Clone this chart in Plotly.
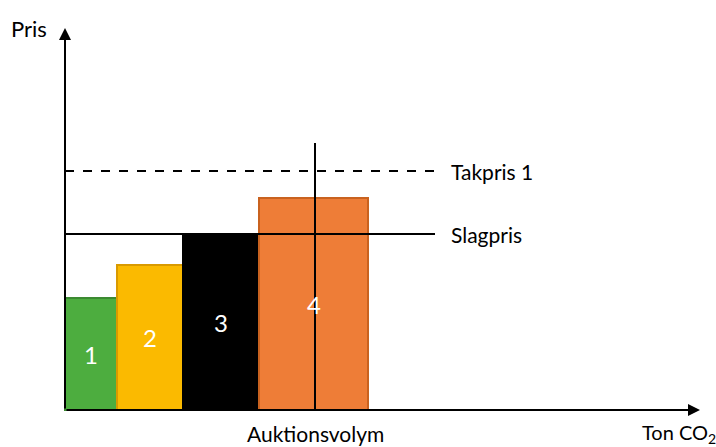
import plotly.graph_objects as go

# Bids in the auction: volume (width) and price (height) of each step
bid_labels = ["1", "2", "3", "4"]
bid_volumes = [5.2, 6.6, 7.6, 10.9]
bid_prices = [11.2, 14.5, 17.6, 21.2]
fill_colors = ["#4DAD3F", "#FBBA00", "#000000", "#EE7D37"]
edge_colors = ["#3C8A32", "#D99A00", "#000000", "#C9621F"]

clearing_price = 17.6      # Slagpris
ceiling_price = 23.9       # Takpris 1
auction_volume = 25.0      # Auktionsvolym
line_end = 37.0
x_axis_end = 63.5
y_axis_end = 38.2

# Left edges and centres of the stacked volume steps
lefts = []
acc = 0.0
for w in bid_volumes:
    lefts.append(acc)
    acc += w
centres = [l + w / 2 for l, w in zip(lefts, bid_volumes)]

fig = go.Figure()
fig.add_trace(go.Bar(
    x=centres, y=bid_prices, width=bid_volumes, base=0,
    marker=dict(color=fill_colors, line=dict(color=edge_colors, width=2)),
    hoverinfo="skip",
))

shapes = [
    # clearing price
    dict(type="line", x0=0, x1=line_end, y0=clearing_price, y1=clearing_price,
         line=dict(color="black", width=2)),
    # price ceiling
    dict(type="line", x0=0, x1=line_end, y0=ceiling_price, y1=ceiling_price,
         line=dict(color="black", width=2, dash="dash")),
    # auctioned volume
    dict(type="line", x0=auction_volume, x1=auction_volume, y0=0, y1=26.7,
         line=dict(color="black", width=2)),
]

annotations = [
    # axes with arrow heads
    dict(x=x_axis_end, y=0, ax=0, ay=0, xref="x", yref="y", axref="x", ayref="y",
         showarrow=True, arrowhead=2, arrowsize=1.2, arrowwidth=2, arrowcolor="black", text=""),
    dict(x=0, y=y_axis_end, ax=0, ay=0, xref="x", yref="y", axref="x", ayref="y",
         showarrow=True, arrowhead=2, arrowsize=1.2, arrowwidth=2, arrowcolor="black", text=""),
    dict(x=38.4, y=ceiling_price, text="Takpris 1", showarrow=False,
         xanchor="left", yanchor="middle"),
    dict(x=38.4, y=clearing_price, text="Slagpris", showarrow=False,
         xanchor="left", yanchor="middle"),
    dict(x=auction_volume, y=-2.3, text="Auktionsvolym", showarrow=False,
         xanchor="center", yanchor="middle"),
    dict(x=57.5, y=-2.3, text="Ton CO<sub>2</sub>", showarrow=False,
         xanchor="left", yanchor="middle", font=dict(size=20)),
    dict(x=-5.6, y=38.2, text="Pris", showarrow=False,
         xanchor="left", yanchor="middle", font=dict(size=22)),
]

# Bid numbers centred in each step, drawn above the volume line
for c, p, lab in zip(centres, bid_prices, bid_labels):
    annotations.append(dict(x=c, y=p / 2, text=lab, showarrow=False,
                            xanchor="center", yanchor="middle",
                            font=dict(color="white", size=24)))

fig.update_layout(
    width=716, height=447,
    margin=dict(l=0, r=0, t=0, b=0),
    paper_bgcolor="white", plot_bgcolor="white",
    showlegend=False, bargap=0,
    font=dict(family="Lato", size=21, color="black"),
    xaxis=dict(range=[-6.5, 65.1], visible=False, fixedrange=True),
    yaxis=dict(range=[-3.7, 41.0], visible=False, fixedrange=True),
    shapes=shapes, annotations=annotations,
)

fig.write_html("out.html")
